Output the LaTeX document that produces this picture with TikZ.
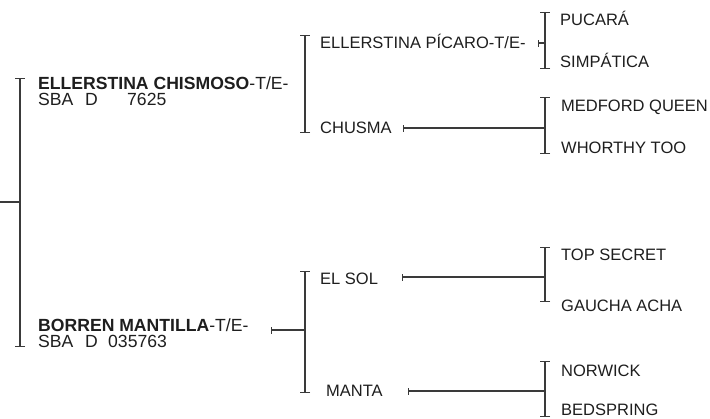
\documentclass[tikz,border=0pt]{standalone}
\usepackage{fontspec}
\setmainfont{Liberation Sans}
\usetikzlibrary{arrows.meta}
\definecolor{ink}{HTML}{1E1E1E}
\definecolor{rulecol}{HTML}{3A3A3A}
\begin{document}
\begin{tikzpicture}[x=1pt,y=-1pt,
  lbl/.style={anchor=base west,inner sep=0pt,text=ink,font=\fontsize{16.5}{18}\selectfont},
  toplbl/.style={lbl,font=\fontsize{17.6}{18}\selectfont},
  brk/.style={draw=rulecol,line width=1.1pt,{Bar[width=10pt]}-{Bar[width=10pt]}},
  stemline/.style={draw=rulecol,line width=1.1pt,{Bar[width=7pt]}-},
  plainline/.style={draw=rulecol,line width=1.1pt}]
\useasboundingbox[fill=white] (0,0) rectangle (710,418);

% ---- texts ----
\node[toplbl] (chismoso) at (38,89) {\textbf{ELLERSTINA CHISMOSO}-T/E-};
\node[toplbl] (chismosoreg) at (38,105) {\makebox[47pt][l]{SBA}\makebox[42pt][l]{D}7625};
\node[toplbl] (borren) at (38,331) {\textbf{BORREN MANTILLA}-T/E-};
\node[toplbl] (borrenreg) at (38,347) {\makebox[47pt][l]{SBA}\makebox[23pt][l]{D}035763};

\node[lbl] (picaro) at (320,48) {ELLERSTINA PÍCARO-T/E-};
\node[lbl] (chusma) at (320,133) {CHUSMA};
\node[lbl] (elsol) at (320,284) {EL SOL};
\node[lbl] (manta) at (326,396) {MANTA};

\node[lbl] (pucara) at (560,25) {PUCARÁ};
\node[lbl] (simpatica) at (560,67) {SIMPÁTICA};
\node[lbl] (medford) at (561,111) {MEDFORD QUEEN};
\node[lbl] (whorthy) at (561,153) {WHORTHY TOO};
\node[lbl] (topsecret) at (561,260) {TOP SECRET};
\node[lbl] (gaucha) at (561,311) {GAUCHA ACHA};
\node[lbl] (norwick) at (561,376) {NORWICK};
\node[lbl] (bedspring) at (561,415) {BEDSPRING};

% ---- bracket coordinates ----
\coordinate (root) at (0,202);
\coordinate (b0t) at (20,78);  \coordinate (b0m) at (20,202); \coordinate (b0b) at (20,347);
\coordinate (b1t) at (305,35); \coordinate (b1b) at (305,133);
\coordinate (s2) at (271,330); \coordinate (b2t) at (305,271); \coordinate (b2m) at (305,330); \coordinate (b2b) at (305,393);
\coordinate (s3) at (538,43);  \coordinate (b3t) at (545,12);  \coordinate (b3m) at (545,43);  \coordinate (b3b) at (545,69);
\coordinate (s4) at (403,128); \coordinate (b4t) at (545,97);  \coordinate (b4m) at (545,128); \coordinate (b4b) at (545,154);
\coordinate (s5) at (402,277); \coordinate (b5t) at (545,247); \coordinate (b5m) at (545,277); \coordinate (b5b) at (545,302);
\coordinate (s6) at (408,391); \coordinate (b6t) at (545,361); \coordinate (b6m) at (545,391); \coordinate (b6b) at (545,417);

% ---- brackets ----
\draw[brk] (b0t) -- (b0b);
\draw[plainline] (root) -- (b0m);
\draw[brk] (b1t) -- (b1b);
\draw[brk] (b2t) -- (b2b);
\draw[stemline] (s2) -- (b2m);
\draw[brk] (b3t) -- (b3b);
\draw[stemline] (s3) -- (b3m);
\draw[brk] (b4t) -- (b4b);
\draw[stemline] (s4) -- (b4m);
\draw[brk] (b5t) -- (b5b);
\draw[stemline] (s5) -- (b5m);
\draw[brk] (b6t) -- (b6b);
\draw[stemline] (s6) -- (b6m);
\end{tikzpicture}
\end{document}
